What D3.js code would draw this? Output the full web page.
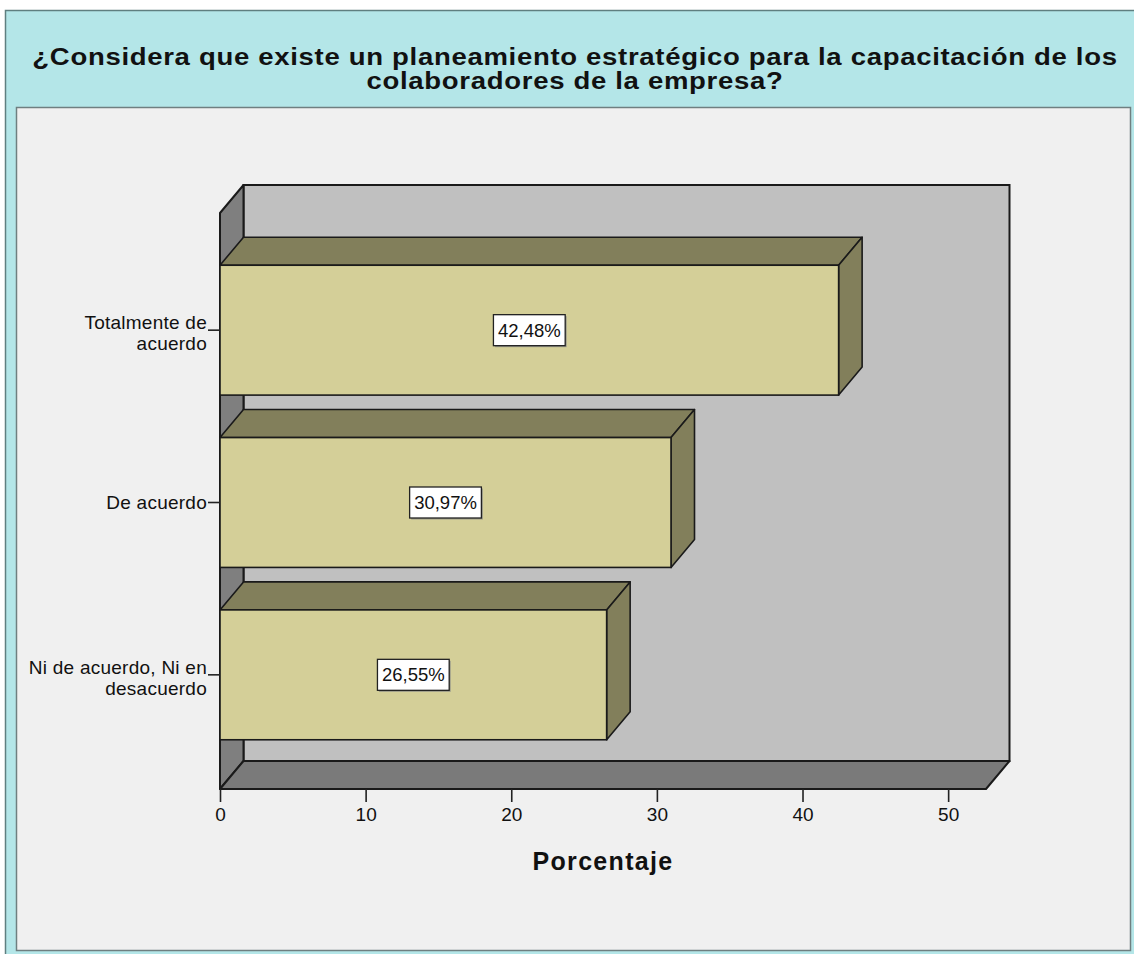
<!DOCTYPE html>
<html><head><meta charset="utf-8">
<script src="https://cdn.jsdelivr.net/npm/d3@7"></script>
<style>body{margin:0;background:#fff;}svg{display:block;font-family:"Liberation Sans",Arial,sans-serif;}</style>
</head><body>
<script>
const titleLines = ["¿Considera que existe un planeamiento estratégico para la capacitación de los", "colaboradores de la empresa?"];
const categories = ["Totalmente de acuerdo", "De acuerdo", "Ni de acuerdo, Ni en desacuerdo"];
const categoryLines = [["Totalmente de", "acuerdo"], ["De acuerdo"], ["Ni de acuerdo, Ni en", "desacuerdo"]];
const values = [42.48, 30.97, 26.55];
const valueLabels = ["42,48%", "30,97%", "26,55%"];
const xTicks = [0, 10, 20, 30, 40, 50];
const xTitle = "Porcentaje";

const W = 1134, H = 954;
const svg = d3.select("body").append("svg").attr("width", W).attr("height", H);

// frames
svg.append("rect").attr("x", 5.5).attr("y", 10.5).attr("width", W).attr("height", H)
  .attr("fill", "#b4e6e8").attr("stroke", "#5f7f80").attr("stroke-width", 1.5);
svg.append("rect").attr("x", 16.5).attr("y", 107.5).attr("width", 1114).attr("height", 843)
  .attr("fill", "#f0f0f0").attr("stroke", "#6f7f80").attr("stroke-width", 1.5);

// title (glyphs widened horizontally like the source rendering)
const tcx = 575;
const titleG = svg.append("g");
const title = titleG.append("text").attr("text-anchor", "middle").attr("font-weight", "bold")
  .attr("font-size", 24).attr("letter-spacing", 0.6).attr("fill", "#111");
titleLines.forEach((t, i) => title.append("tspan").attr("x", 0).attr("y", 65 + i * 24).text(t));
const natW = title.select("tspan").node().getComputedTextLength();
const sx = 1086 / natW;
titleG.attr("transform", `translate(${tcx},0) scale(${sx},1)`);

// scales
const x0 = 220, x1 = 986, yTop = 213, yBot = 789;
const dx = 23.5, dy = -28;
const x = d3.scaleLinear().domain([0, 52.6]).range([x0, x1]);
const y = d3.scaleBand().domain(categories).range([244, 761]).paddingInner(0.2464).paddingOuter(0.1232);

const g = svg.append("g");
const stroke = "#1a1a1a";
const poly = pts => "M" + pts.map(p => p.join(",")).join("L") + "Z";

// back wall
g.append("path").attr("d", poly([[x0 + dx, yTop + dy], [x1 + dx, yTop + dy], [x1 + dx, yBot + dy], [x0 + dx, yBot + dy]]))
  .attr("fill", "#c0c0c0").attr("stroke", stroke).attr("stroke-width", 2);
// left wall
g.append("path").attr("d", poly([[x0, yTop], [x0 + dx, yTop + dy], [x0 + dx, yBot + dy], [x0, yBot]]))
  .attr("fill", "#7f7f7f").attr("stroke", stroke).attr("stroke-width", 2).attr("stroke-linejoin", "round");
// floor
g.append("path").attr("d", poly([[x0, yBot], [x0 + dx, yBot + dy], [x1 + dx, yBot + dy], [x1, yBot]]))
  .attr("fill", "#7a7a7a").attr("stroke", stroke).attr("stroke-width", 2).attr("stroke-linejoin", "round");

// bars
const bars = g.selectAll("g.bar").data(categories).join("g").attr("class", "bar");
bars.each(function (c, i) {
  const gg = d3.select(this);
  const top = y(c), bot = y(c) + y.bandwidth(), xr = x(values[i]);
  gg.append("path").attr("d", poly([[x0, top], [x0 + dx, top + dy], [xr + dx, top + dy], [xr, top]]))
    .attr("fill", "#827f5b").attr("stroke", stroke).attr("stroke-width", 1.6).attr("stroke-linejoin", "round");
  gg.append("path").attr("d", poly([[xr, top], [xr + dx, top + dy], [xr + dx, bot + dy], [xr, bot]]))
    .attr("fill", "#827f5b").attr("stroke", stroke).attr("stroke-width", 1.6).attr("stroke-linejoin", "round");
  gg.append("rect").attr("x", x0).attr("y", top).attr("width", xr - x0).attr("height", bot - top)
    .attr("fill", "#d4cf98").attr("stroke", stroke).attr("stroke-width", 1.6);
  // label
  const cx = (x0 + xr) / 2, cy = (top + bot) / 2;
  const t = gg.append("text").attr("x", cx).attr("y", cy + 6.5).attr("text-anchor", "middle")
    .attr("font-size", 18.5).attr("fill", "#111").text(valueLabels[i]);
  const bb = t.node().getBBox();
  const bw = bb.width + 9, bh = 31;
  gg.insert("rect", "text").attr("x", cx - bw / 2 + 1.5).attr("y", cy - bh / 2 + 1.5).attr("width", bw).attr("height", bh)
    .attr("fill", "#9a9a8a");
  gg.insert("rect", "text").attr("x", cx - bw / 2).attr("y", cy - bh / 2).attr("width", bw).attr("height", bh)
    .attr("fill", "#fff").attr("stroke", "#222").attr("stroke-width", 1.3);
});

// x axis
const xa = svg.append("g").attr("transform", `translate(0,${yBot})`)
  .call(d3.axisBottom(x).tickValues(xTicks).tickSize(13).tickPadding(6).tickFormat(d3.format("d")));
xa.select(".domain").remove();
xa.selectAll(".tick line").attr("stroke", "#222").attr("stroke-width", 1.6);
xa.selectAll(".tick text").attr("font-size", 19).attr("fill", "#111").attr("font-family", "Liberation Sans, Arial, sans-serif");

// y axis
const ya = svg.append("g").attr("transform", `translate(${x0},0)`)
  .call(d3.axisLeft(y).tickSize(12).tickFormat(""));
ya.select(".domain").remove();
ya.selectAll(".tick line").attr("stroke", "#222").attr("stroke-width", 1.6);
ya.selectAll(".tick").each(function (c, i) {
  const lines = categoryLines[i];
  const t = d3.select(this).append("text").attr("text-anchor", "end").attr("font-size", 19).attr("letter-spacing", 0.25)
    .attr("fill", "#111").attr("font-family", "Liberation Sans, Arial, sans-serif");
  const off = lines.length === 1 ? 6.5 : -1;
  lines.forEach((l, k) => t.append("tspan").attr("x", -13).attr("y", off + k * 21).text(l));
});

// x title
svg.append("text").attr("x", 603).attr("y", 870).attr("text-anchor", "middle").attr("font-weight", "bold")
  .attr("font-size", 25).attr("letter-spacing", 1.3).attr("fill", "#111").text(xTitle);
</script>
</body></html>
